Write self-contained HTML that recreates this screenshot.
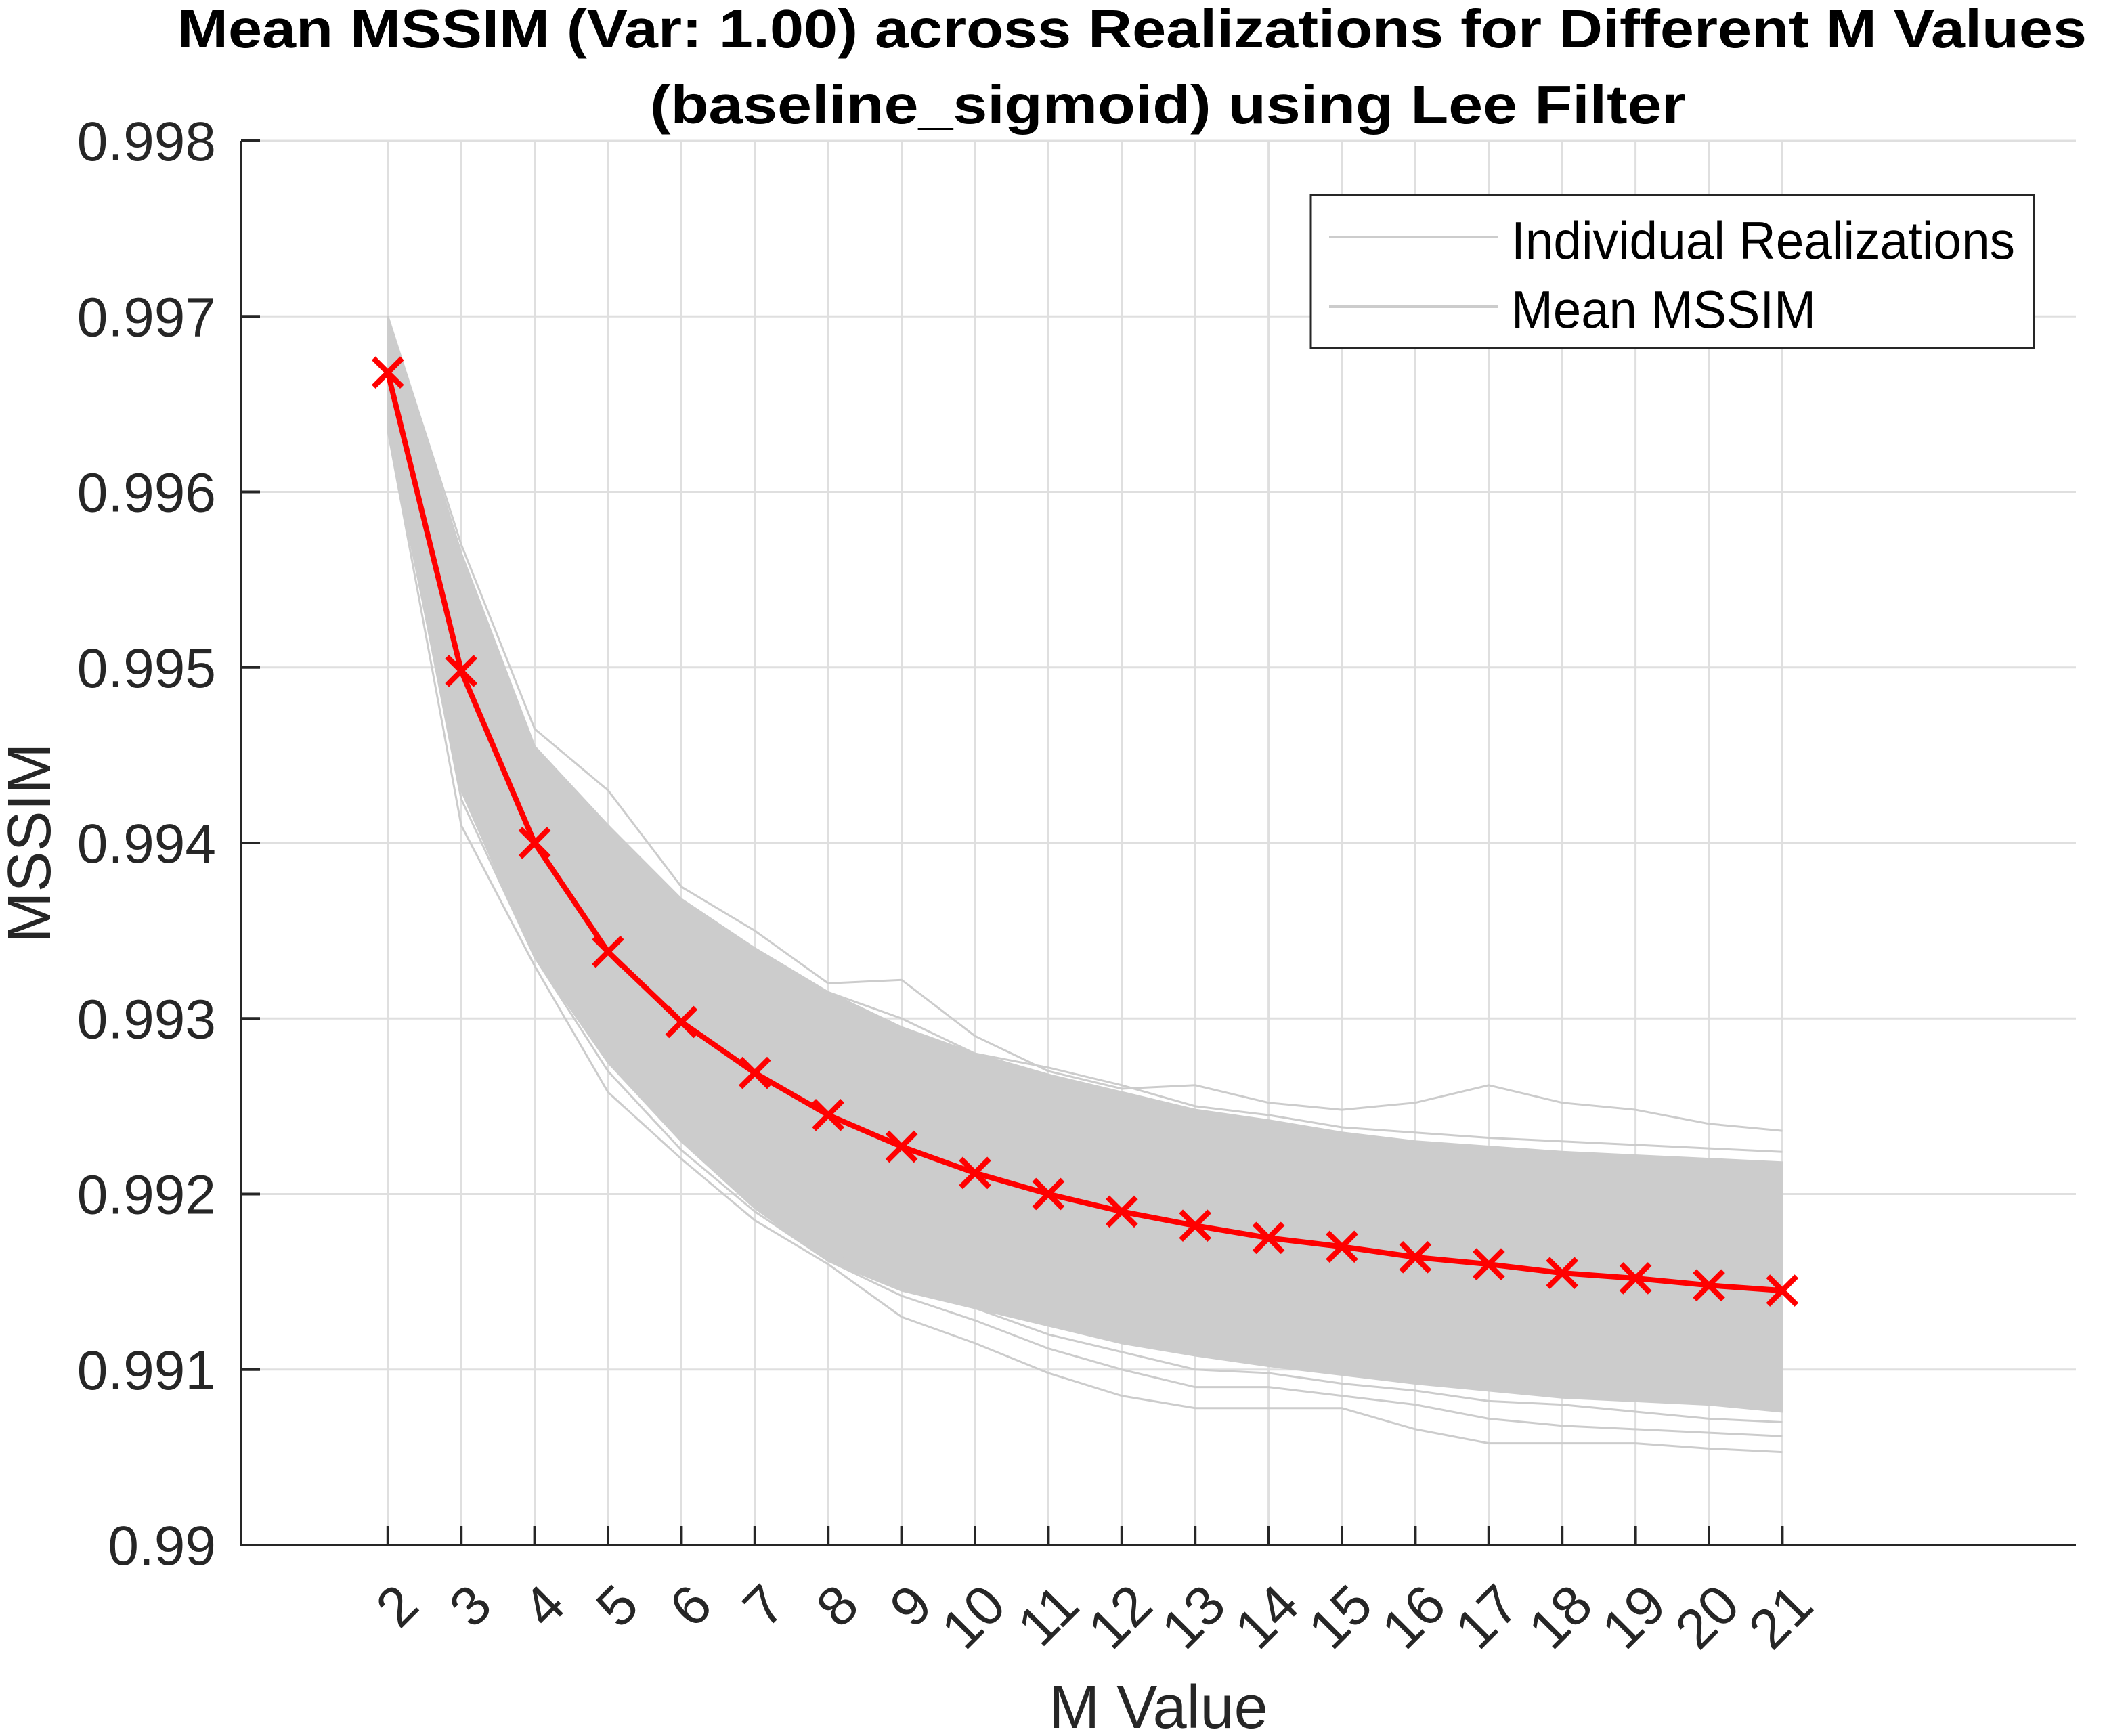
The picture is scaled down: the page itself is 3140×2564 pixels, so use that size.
<!DOCTYPE html>
<html><head><meta charset="utf-8"><style>
html,body{margin:0;padding:0;background:#fff;}
svg{display:block;font-family:"Liberation Sans",Arial,sans-serif;}
</style></head><body>
<svg id="chart" width="3140" height="2564" viewBox="0 0 3140 2564" xmlns="http://www.w3.org/2000/svg">
<rect width="3140" height="2564" fill="#fff"/>
<g id="grid"></g>
<g id="band"></g>
<g id="reals"></g>
<g id="meanG"></g>
<g id="axes"></g>
<text x="1672" y="70" font-size="80" font-weight="bold" text-anchor="middle" textLength="2820" lengthAdjust="spacingAndGlyphs" fill="#000">Mean MSSIM (Var: 1.00) across Realizations for Different M Values</text>
<text x="1725" y="182" font-size="80" font-weight="bold" text-anchor="middle" textLength="1530" lengthAdjust="spacingAndGlyphs" fill="#000">(baseline_sigmoid) using Lee Filter</text>
<text x="1711" y="2552" font-size="90" text-anchor="middle" fill="#262626">M Value</text>
<text transform="translate(74,1245) rotate(-90)" font-size="90" text-anchor="middle" fill="#262626">MSSIM</text>
<g>
<rect x="1936" y="288" width="1068" height="226" fill="#fff" stroke="#262626" stroke-width="3"/>
<line x1="1963" y1="350" x2="2213" y2="350" stroke="#cccccc" stroke-width="4"/>
<text x="2232" y="382" font-size="78" fill="#000" textLength="744" lengthAdjust="spacingAndGlyphs">Individual Realizations</text>
<line x1="1963" y1="453" x2="2213" y2="453" stroke="#cccccc" stroke-width="4"/>
<text x="2232" y="484" font-size="78" fill="#000" textLength="450" lengthAdjust="spacingAndGlyphs">Mean MSSIM</text>
</g>
</svg>
<script>
const mValues=[2,3,4,5,6,7,8,9,10,11,12,13,14,15,16,17,18,19,20,21];
const meanMSSIM=[0.99668,0.99498,0.99400,0.99338,0.99298,0.99269,0.99245,0.99227,0.99212,0.99200,0.99190,0.99182,0.99175,0.99170,0.99164,0.99160,0.99155,0.99152,0.99148,0.99145];
const bandUpper=[0.99700,0.99565,0.99455,0.99410,0.99368,0.99340,0.99315,0.99295,0.99280,0.99268,0.99258,0.99248,0.99242,0.99235,0.99230,0.99227,0.99224,0.99222,0.99220,0.99218];
const bandLower=[0.99635,0.99430,0.99335,0.99275,0.99230,0.99192,0.99162,0.99145,0.99135,0.99125,0.99115,0.99108,0.99102,0.99097,0.99092,0.99088,0.99084,0.99082,0.99080,0.99076];
const realTop=[0.99700,0.99570,0.99465,0.99430,0.99375,0.99350,0.99320,0.99322,0.99290,0.99270,0.99260,0.99262,0.99252,0.99248,0.99252,0.99262,0.99252,0.99248,0.99240,0.99236];
const realTop2=[0.99690,0.99545,0.99450,0.99410,0.99365,0.99340,0.99315,0.99300,0.99280,0.99272,0.99262,0.99250,0.99245,0.99238,0.99235,0.99232,0.99230,0.99228,0.99226,0.99224];
const realBottom=[0.99635,0.99410,0.99330,0.99258,0.99220,0.99185,0.99160,0.99130,0.99115,0.99098,0.99085,0.99078,0.99078,0.99078,0.99066,0.99058,0.99058,0.99058,0.99055,0.99053];
const realBottom2=[0.99640,0.99425,0.99335,0.99270,0.99225,0.99190,0.99162,0.99142,0.99128,0.99112,0.99100,0.99090,0.99090,0.99085,0.99080,0.99072,0.99068,0.99066,0.99064,0.99062];
const realLow3=[0.99645,0.99435,0.99338,0.99275,0.99230,0.99195,0.99168,0.99150,0.99135,0.99120,0.99110,0.99100,0.99098,0.99092,0.99088,0.99082,0.99080,0.99076,0.99072,0.99070];
const yTicks=[0.990,0.991,0.992,0.993,0.994,0.995,0.996,0.997,0.998];
const yTickLabels=["0.99","0.991","0.992","0.993","0.994","0.995","0.996","0.997","0.998"];
const xTickLabels=["2","3","4","5","6","7","8","9","10","11","12","13","14","15","16","17","18","19","20","21"];

const L=356,R=3066,T=208,B=2282,XMIN=0,XMAX=25,YMIN=0.990,YMAX=0.998;
const NS="http://www.w3.org/2000/svg";
function sx(v){return L+(v-XMIN)/(XMAX-XMIN)*(R-L);}
function sy(v){return B-(v-YMIN)/(YMAX-YMIN)*(B-T);}
function mk(tag,attrs,parent){const e=document.createElementNS(NS,tag);for(const k in attrs)e.setAttribute(k,attrs[k]);parent.appendChild(e);return e;}
const grid=document.getElementById('grid'),axes=document.getElementById('axes');
mValues.forEach((m,i)=>{
  const g=mk('line',{x1:sx(m),x2:sx(m),y1:T,y2:B,stroke:'#dfdfdf','stroke-width':3},grid);
  
  
});
yTicks.forEach(v=>{
  const g=mk('line',{x1:L,x2:R,y1:sy(v),y2:sy(v),stroke:'#dfdfdf','stroke-width':3},grid);
  
  
});
const band=document.getElementById('band');
let pts=mValues.map((m,i)=>sx(m)+','+sy(bandUpper[i]));
pts=pts.concat(mValues.map((m,i)=>sx(m)+','+sy(bandLower[i])).reverse());
const bp=mk('polygon',{points:pts.join(' '),fill:'#cccccc',stroke:'#cccccc','stroke-width':3},band);


const reals=document.getElementById('reals');
[realTop,realTop2,realBottom,realBottom2,realLow3].forEach(arr=>{
  const p=mk('polyline',{points:mValues.map((m,i)=>sx(m)+','+sy(arr[i])).join(' '),fill:'none',stroke:'#cccccc','stroke-width':3},reals);
  
  
});
const mg=document.getElementById('meanG');
const ml=mk('polyline',{points:mValues.map((m,i)=>sx(m)+','+sy(meanMSSIM[i])).join(' '),fill:'none',stroke:'#ff0000','stroke-width':8,'stroke-linejoin':'round'},mg);


mValues.forEach((m,i)=>{
  const x=sx(m),y=sy(meanMSSIM[i]),s=21;
  const p=mk('path',{d:`M${x-s},${y-s}L${x+s},${y+s}M${x-s},${y+s}L${x+s},${y-s}`,stroke:'#ff0000','stroke-width':8,fill:'none'},mg);
  
  
});
const ax=mk('path',{d:`M${L},${T}L${L},${B}L${R},${B}`,stroke:'#262626','stroke-width':4,fill:'none'},axes);


yTicks.forEach((v,i)=>{
  const t=mk('line',{x1:L,x2:L+28,y1:sy(v),y2:sy(v),stroke:'#262626','stroke-width':4},axes);
  
  
  const tx=mk('text',{x:L-37,y:sy(v)+29,'font-size':82,'text-anchor':'end',fill:'#262626'},axes);
  tx.textContent=yTickLabels[i];
  
  
});
mValues.forEach((m,i)=>{
  const x=sx(m);
  const t=mk('line',{x1:x,x2:x,y1:B,y2:B-28,stroke:'#262626','stroke-width':4},axes);
  
  
  const ax0=x+30,ay0=2356;
  const tx=mk('text',{transform:`translate(${ax0},${ay0}) rotate(-45)`,'font-size':82,'text-anchor':'end','dominant-baseline':'central',fill:'#262626'},axes);
  tx.textContent=xTickLabels[i];
  
  
});
</script>
</body></html>
